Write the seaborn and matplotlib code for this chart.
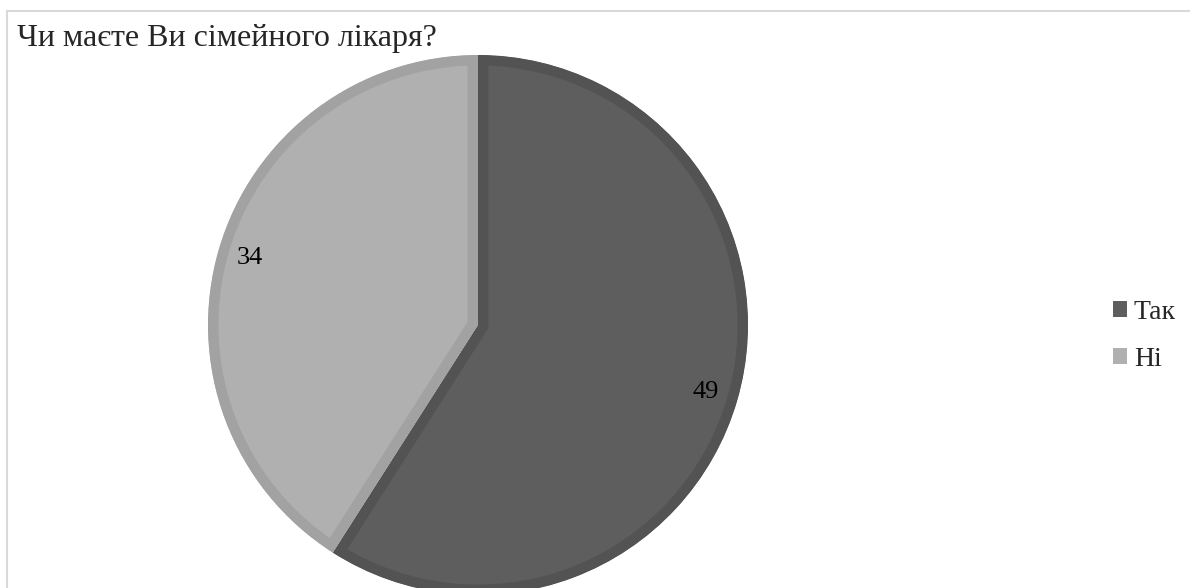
import matplotlib
matplotlib.use("Agg")
import matplotlib.pyplot as plt
import matplotlib.patches as mpatches
import seaborn as sns

# Data
labels = ["Так", "Ні"]
values = [49, 34]
fill_colors = ["#5e5e5e", "#b0b0b0"]
edge_colors = ["#535353", "#a2a2a2"]
title = "Чи маєте Ви сімейного лікаря?"

sns.set_theme(style="white")
plt.rcParams["font.family"] = ["Liberation Serif", "DejaVu Serif"]

W, H = 1190, 588
fig = plt.figure(figsize=(W / 100, H / 100), dpi=100)
ax = fig.add_axes([0, 0, 1, 1])

# chart frame (only top/left visible in the crop)
frame = mpatches.Rectangle((7, -50), W + 50, H - 11 + 50, fill=False,
                           edgecolor="#d9d9d9", linewidth=1.5)
ax.add_patch(frame)

wedges, texts = ax.pie(values, colors=fill_colors, startangle=90, counterclock=False,
                       center=(478, H - 325), radius=270, labels=values,
                       labeldistance=0.88, textprops=dict(fontsize=19, color="black"),
                       frame=True)
ax.set_xlim(0, W)
ax.set_ylim(0, H)
ax.set_aspect("equal")
ax.axis("off")
# inner border like the original (stroke clipped to its own wedge)
for w, ec in zip(wedges, edge_colors):
    w.set_edgecolor(ec)
    w.set_linewidth(15)
    w.set_clip_on(True)
    w.set_clip_path(w)
for t in texts:
    t.set_ha("center")
    t.set_va("center")

fig.text(17 / W, 1 - 46 / H, title, fontsize=23, ha="left", va="baseline")

handles = [mpatches.Patch(facecolor=c, edgecolor="none") for c in fill_colors]
fig.legend(handles, labels, loc="center left", bbox_to_anchor=(1113 / W, 1 - 336 / H),
           frameon=False, fontsize=20, handlelength=0.5, handleheight=0.5,
           handletextpad=0.25, labelspacing=0.8, borderpad=0, borderaxespad=0)

fig.savefig("out.png", dpi=100)
